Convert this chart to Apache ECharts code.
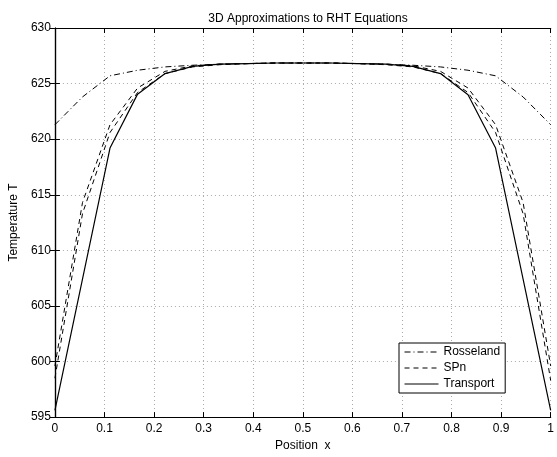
<!DOCTYPE html>
<html lang="en">
<head>
    <meta charset="UTF-8">
    <title>3D Approximations to RHT Equations</title>
    <script src="https://cdn.jsdelivr.net/npm/echarts@6/dist/echarts.min.js"></script>
    <style>
        html, body { margin: 0; padding: 0; background: #fff; }
    </style>
</head>
<body>
    <div id="app" style="width: 557px;height: 457px;"></div>

    <script>
        // positions along x (grid points)
        const xPos = [0, 0.0556, 0.1111, 0.1667, 0.2222, 0.2778, 0.3333, 0.3889, 0.4444, 0.5,
                      0.5556, 0.6111, 0.6667, 0.7222, 0.7778, 0.8333, 0.8889, 0.9444, 1]

        const rosseland = [621.3, 623.8, 625.7, 626.2, 626.5, 626.65, 626.75, 626.8, 626.85, 626.85,
                           626.85, 626.8, 626.75, 626.65, 626.5, 626.2, 625.7, 623.8, 621.3]
        const spnA = [599.6, 614.3, 621.3, 624.6, 626.1, 626.6, 626.75, 626.8, 626.85, 626.85,
                      626.85, 626.8, 626.75, 626.6, 626.1, 624.6, 621.3, 614.3, 599.6]
        const spnB = [598.5, 613.3, 620.6, 624.2, 625.9, 626.5, 626.7, 626.8, 626.85, 626.85,
                      626.85, 626.8, 626.7, 626.5, 625.9, 624.2, 620.6, 613.3, 598.3]
        const transport = [595.6, 607.4, 619.2, 624.05, 625.9, 626.55, 626.75, 626.8, 626.85, 626.85,
                           626.85, 626.8, 626.75, 626.55, 625.9, 624.0, 619.2, 607.4, 595.6]

        const xTicks = ['0', '0.1', '0.2', '0.3', '0.4', '0.5', '0.6', '0.7', '0.8', '0.9', '1']

        const pair = ys => xPos.map((x, i) => [x, ys[i]])

        const font = 'Liberation Sans, Arial, Helvetica, sans-serif'

        var myChart = echarts.init(document.getElementById('app'));

        const boxLine = { show: true, lineStyle: { color: '#000', width: 1.2 } }
        const tickIn = { show: true, inside: true, length: 5, lineStyle: { color: '#000', width: 1 } }
        const dotGrid = { show: true, lineStyle: { color: '#aaa', type: [1, 3], width: 1 } }

        var option = {
            backgroundColor: '#fff',
            animation: false,
            title: {
                text: '3D Approximations to RHT Equations',
                left: 303,
                textAlign: 'center',
                top: 8,
                textStyle: { fontFamily: font, fontSize: 12, fontWeight: 'normal', color: '#000' }
            },
            grid: { left: 54, right: 5, top: 28, bottom: 37 },
            legend: {
                data: ['Rosseland', 'SPn', 'Transport'],
                orient: 'vertical',
                left: 399,
                top: 343,
                padding: [3, 5, 3, 5],
                itemGap: 4,
                itemWidth: 34,
                itemHeight: 12,
                borderColor: '#000',
                borderWidth: 1,
                backgroundColor: '#fff',
                itemStyle: { opacity: 0 },
                lineStyle: { width: 1 },
                textStyle: { fontFamily: font, fontSize: 12, color: '#000' }
            },
            xAxis: [
                {
                    type: 'value', min: 0, max: 1, interval: 0.1,
                    name: 'Position  x', nameLocation: 'middle', nameGap: 20,
                    nameTextStyle: { fontFamily: font, fontSize: 12, color: '#000' },
                    axisLine: boxLine, axisTick: tickIn, splitLine: dotGrid,
                    axisLabel: {
                        fontFamily: font, fontSize: 12, color: '#000', margin: 6,
                        formatter: v => xTicks[Math.round(v * 10)]
                    }
                },
                {
                    type: 'value', min: 0, max: 1, interval: 0.1, position: 'top',
                    axisLine: boxLine, axisTick: tickIn, splitLine: { show: false },
                    axisLabel: { show: false }
                }
            ],
            yAxis: [
                {
                    type: 'value', min: 595, max: 630, interval: 5,
                    name: 'Temperature T', nameLocation: 'middle', nameGap: 27,
                    nameTextStyle: { fontFamily: font, fontSize: 12, color: '#000' },
                    axisLine: boxLine, axisTick: tickIn, splitLine: dotGrid,
                    axisLabel: { fontFamily: font, fontSize: 12, color: '#000', margin: 4 }
                },
                {
                    type: 'value', min: 595, max: 630, interval: 5, position: 'right',
                    axisLine: boxLine, axisTick: tickIn, splitLine: { show: false },
                    axisLabel: { show: false }
                }
            ],
            series: [
                {
                    name: 'Rosseland', type: 'line', data: pair(rosseland), symbol: 'none',
                    lineStyle: { color: '#000', width: 1, type: [6, 3, 1, 3] }
                },
                {
                    name: 'SPn', type: 'line', data: pair(spnA), symbol: 'none',
                    lineStyle: { color: '#000', width: 1, type: [5, 4] }
                },
                {
                    name: 'SPn', type: 'line', data: pair(spnB), symbol: 'none',
                    lineStyle: { color: '#000', width: 1, type: [5, 4] }
                },
                {
                    name: 'Transport', type: 'line', data: pair(transport), symbol: 'none',
                    lineStyle: { color: '#000', width: 1.2 }
                }
            ]
        };

        myChart.setOption(option);
    </script>
</body>
</html>
